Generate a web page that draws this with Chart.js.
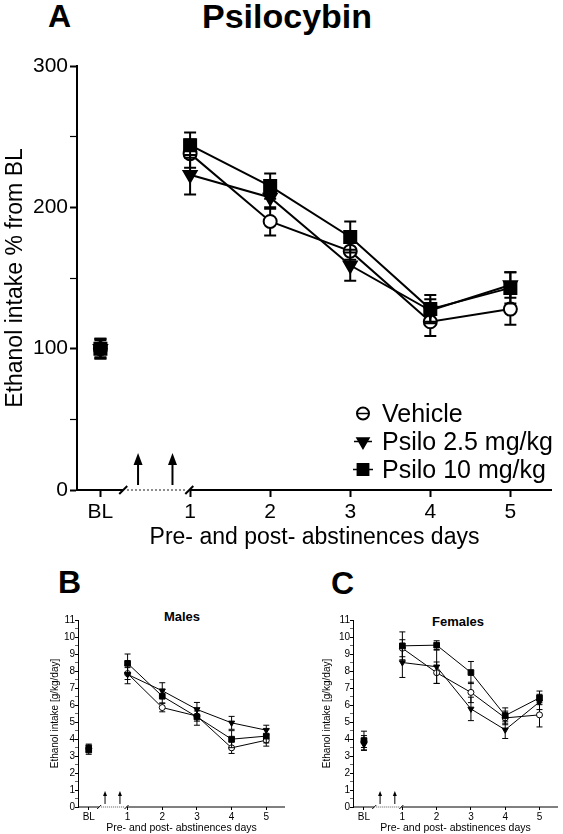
<!DOCTYPE html>
<html>
<head>
<meta charset="utf-8">
<script src="https://cdn.jsdelivr.net/npm/chart.js@4.4.1/dist/chart.umd.min.js"></script>
<style>
  body { margin: 0; background: #fff; width: 563px; height: 834px; position: relative; overflow: hidden;
         font-family: 'Liberation Sans', Arial, sans-serif; }
  .lbl { position: absolute; font-weight: bold; color: #000; line-height: 1; white-space: nowrap; }
  canvas { position: absolute; }
</style>
</head>
<body>
<div class="lbl" style="left:48px;top:0;font-size:32px">A</div>
<div class="lbl" style="left:137px;top:-1px;width:300px;text-align:center;font-size:34px">Psilocybin</div>
<div class="lbl" style="left:58px;top:566px;font-size:32px">B</div>
<div class="lbl" style="left:331px;top:567px;font-size:32px">C</div>
<div class="lbl" style="left:132px;top:610px;width:100px;text-align:center;font-size:13px">Males</div>
<div class="lbl" style="left:408px;top:615px;width:100px;text-align:center;font-size:13px">Females</div>

<canvas id="chartA" width="563" height="560" style="left:0;top:0"></canvas>
<canvas id="chartB" width="290" height="254" style="left:0;top:580px"></canvas>
<canvas id="chartC" width="283" height="254" style="left:280px;top:580px"></canvas>

<script>
// Trục X: BL rồi các ngày sau cai
const categories = ['BL', '1', '2', '3', '4', '5'];
const dayPositions = [-0.12, 1, 2, 3, 4, 5];
const seriesNames = ['Vehicle', 'Psilo 2.5 mg/kg', 'Psilo 10 mg/kg'];
const injectionDays = [0.35, 0.78]; // hai mũi tiêm trong thời gian cai

// A: % so với BL
const vehiclePct = [100, 238, 190, 169, 119, 128];
const vehiclePctSem = [7, 10, 10, 6, 10, 11];
const psilo25Pct = [100, 223, 207, 159, 127, 145];
const psilo25PctSem = [6, 14, 8, 11, 8, 9];
const psilo10Pct = [100, 244, 215, 179, 128, 143];
const psilo10PctSem = [7, 9, 9, 11, 10, 11];

// B: con đực, g/kg/ngày
const vehicleMales = [3.45, 7.85, 5.85, 5.35, 3.48, 3.93];
const vehicleMalesSem = [0.2, 0.35, 0.25, 0.3, 0.33, 0.35];
const psilo25Males = [3.5, 7.8, 6.84, 5.74, 4.95, 4.52];
const psilo25MalesSem = [0.2, 0.55, 0.47, 0.41, 0.38, 0.29];
const psilo10Males = [3.35, 8.45, 6.52, 5.3, 3.99, 4.17];
const psilo10MalesSem = [0.25, 0.55, 0.4, 0.49, 0.5, 0.4];

// C: con cái, g/kg/ngày
const vehicleFemales = [3.85, 9.34, 7.9, 6.74, 5.24, 5.42];
const vehicleFemalesSem = [0.35, 0.5, 0.63, 0.6, 0.4, 0.71];
const psilo25Females = [3.68, 8.5, 8.25, 5.77, 4.54, 6.18];
const psilo25FemalesSem = [0.35, 0.88, 0.98, 0.69, 0.51, 0.45];
const psilo10Females = [3.91, 9.48, 9.52, 7.91, 5.38, 6.42];
const psilo10FemalesSem = [0.55, 0.82, 0.26, 0.65, 0.45, 0.4];

const FONT = "'Liberation Sans', Arial, sans-serif";
const markerStyles = [
  { pointStyle: 'circle', fill: '#fff', rotation: 0 },
  { pointStyle: 'triangle', fill: '#000', rotation: 180 },
  { pointStyle: 'rect', fill: '#000', rotation: 0 }
];

function buildDatasets(groups, sizes, lw) {
  return groups.map((g, i) => ({
    label: seriesNames[i],
    data: g[0].map((v, j) => ({ x: dayPositions[j], y: v })),
    errors: g[1],
    borderColor: '#000',
    borderWidth: lw,
    tension: 0,
    pointStyle: markerStyles[i].pointStyle,
    pointRotation: markerStyles[i].rotation,
    pointRadius: sizes[i],
    pointBackgroundColor: markerStyles[i].fill,
    pointBorderColor: '#000',
    pointBorderWidth: lw,
    // BL không nối với ngày 1
    segment: { borderColor: c => c.p0DataIndex === 0 ? 'rgba(0,0,0,0)' : undefined },
    order: 2 - i
  }));
}

// error bar, trục X bị ngắt, mũi tên, chú thích
const decorPlugin = {
  id: 'decor',
  beforeDatasetDraw(chart, args, o) {
    const ctx = chart.ctx, ys = chart.scales.y;
    const ds = chart.data.datasets[args.index];
    ctx.save();
    ctx.strokeStyle = '#000';
    ctx.lineWidth = o.lw;
    args.meta.data.forEach((pt, j) => {
      const v = ds.data[j].y, e = ds.errors[j];
      const yt = ys.getPixelForValue(v + e), yb = ys.getPixelForValue(v - e);
      ctx.beginPath();
      ctx.moveTo(pt.x, yt); ctx.lineTo(pt.x, yb);
      ctx.moveTo(pt.x - o.cap, yt); ctx.lineTo(pt.x + o.cap, yt);
      ctx.moveTo(pt.x - o.cap, yb); ctx.lineTo(pt.x + o.cap, yb);
      ctx.stroke();
    });
    ctx.restore();
  },
  afterDraw(chart, args, o) {
    const ctx = chart.ctx, xs = chart.scales.x;
    const { left, right, bottom } = chart.chartArea;
    const y0 = bottom;
    const b1 = xs.getPixelForValue(o.breakFrom), b2 = xs.getPixelForValue(o.breakTo);
    ctx.save();
    ctx.strokeStyle = '#000';
    ctx.lineWidth = o.lw;
    ctx.beginPath();
    ctx.moveTo(left, y0); ctx.lineTo(b1, y0);
    ctx.moveTo(b2, y0); ctx.lineTo(right, y0);
    [b1, b2].forEach(b => { ctx.moveTo(b - o.slash, y0 + o.slash); ctx.lineTo(b + o.slash, y0 - o.slash); });
    ctx.stroke();
    // đoạn chấm chấm
    ctx.setLineDash(o.dash);
    ctx.strokeStyle = o.dotColor;
    ctx.lineWidth = o.dotWidth;
    ctx.beginPath();
    ctx.moveTo(b1 + o.slash, y0); ctx.lineTo(b2 - o.slash, y0);
    ctx.stroke();
    ctx.setLineDash([]);
    // mũi tên
    ctx.strokeStyle = '#000';
    ctx.fillStyle = '#000';
    ctx.lineWidth = o.lw;
    injectionDays.forEach(d => {
      const x = xs.getPixelForValue(d);
      const top = y0 - o.arrow.h;
      ctx.beginPath();
      ctx.moveTo(x, y0 - o.arrow.gap); ctx.lineTo(x, top + o.arrow.head);
      ctx.stroke();
      ctx.beginPath();
      ctx.moveTo(x, top);
      ctx.lineTo(x - o.arrow.half, top + o.arrow.head);
      ctx.lineTo(x + o.arrow.half, top + o.arrow.head);
      ctx.closePath();
      ctx.fill();
    });
    // chú thích
    if (o.legend) {
      const L = o.legend;
      ctx.font = L.font + 'px ' + FONT;
      ctx.textBaseline = 'alphabetic';
      ctx.textAlign = 'left';
      seriesNames.forEach((name, i) => {
        const cy = L.baselines[i] - L.mid;
        ctx.fillStyle = markerStyles[i].fill;
        ctx.strokeStyle = '#000';
        Chart.helpers.drawPoint(ctx, {
          pointStyle: markerStyles[i].pointStyle, rotation: markerStyles[i].rotation,
          radius: L.sizes[i], borderWidth: 1.5
        }, L.x, cy);
        ctx.lineWidth = 1.5;
        ctx.beginPath();
        const w = i === 0 ? L.sizes[i] : L.sizes[i] + 2;
        ctx.moveTo(L.x - w, cy); ctx.lineTo(L.x + w, cy);
        ctx.stroke();
        ctx.fillStyle = '#000';
        ctx.fillText(name, L.textX, L.baselines[i]);
      });
    }
    ctx.restore();
  }
};

function makeChart(id, datasets, c) {
  return new Chart(document.getElementById(id), {
    type: 'line',
    data: { datasets },
    options: {
      responsive: false,
      animation: false,
      layout: { padding: c.padding },
      plugins: { legend: { display: false }, tooltip: { enabled: false }, decor: c.decor },
      scales: {
        x: {
          type: 'linear', min: c.xMin, max: c.xMax,
          afterFit: s => { s.height = c.xHeight; },
          afterBuildTicks: s => { s.ticks = dayPositions.map(v => ({ value: v })); },
          ticks: { callback: (v, i) => categories[i], color: '#000', font: { family: FONT, size: c.tickFont },
                   padding: c.xTickPad, maxRotation: 0, autoSkip: false },
          grid: { drawOnChartArea: false, tickLength: c.tickLen, tickWidth: c.lw, tickColor: '#000' },
          border: { display: false },
          title: { display: true, text: 'Pre- and post- abstinences days', color: '#000',
                   font: { family: FONT, size: c.xTitleFont }, padding: { top: 0, bottom: c.xTitlePad } }
        },
        y: {
          min: 0, max: c.yMax,
          afterFit: s => { s.width = c.yWidth; },
          ticks: { stepSize: c.minorStep, autoSkip: false, color: '#000', padding: c.yTickPad,
                   font: { family: FONT, size: c.tickFont },
                   callback: v => Math.abs(v % c.majorStep) < 1e-6 ? String(v) : '' },
          grid: { drawOnChartArea: false, tickLength: c.tickLen, tickColor: '#000',
                  tickWidth: ctx => (ctx.tick && Math.abs(ctx.tick.value % c.majorStep) < 1e-6) ? c.lw : c.lw * 0.6 },
          border: { color: '#000', width: c.lw },
          title: { display: true, text: c.yTitle, color: '#000',
                   font: { family: FONT, size: c.yTitleFont }, padding: { top: c.yTitlePad, bottom: 0 } }
        }
      }
    },
    plugins: [decorPlugin]
  });
}

document.addEventListener('DOMContentLoaded', () => {
  makeChart('chartA', buildDatasets([
    [vehiclePct, vehiclePctSem], [psilo25Pct, psilo25PctSem], [psilo10Pct, psilo10PctSem]
  ], [6.5, 7.5, 8.5], 2), {
    padding: { top: 66, right: 11, left: 0, bottom: 0 },
    xMin: -0.4125, xMax: 5.52, xHeight: 70, yWidth: 77,
    yMax: 300, minorStep: 50, majorStep: 100,
    tickFont: 21, tickLen: 7, xTickPad: 3, yTickPad: 2, lw: 2,
    xTitleFont: 23, xTitlePad: 9, yTitle: 'Ethanol intake % from BL', yTitleFont: 23, yTitlePad: 2,
    decor: {
      lw: 2, cap: 6, breakFrom: 0.165, breakTo: 0.99, slash: 4,
      dash: [1.5, 2.5], dotColor: '#333', dotWidth: 1.5,
      arrow: { h: 37, gap: 5, head: 12, half: 4.5 },
      legend: { x: 363, textX: 382, baselines: [422, 450, 478], mid: 8.5, font: 25, sizes: [6, 7, 8] }
    }
  });

  const small = {
    xMin: -0.43, xMax: 5.54, xHeight: 27,
    yMax: 11, minorStep: 0.5, majorStep: 1,
    tickFont: 10, tickLen: 3, xTickPad: 1, yTickPad: 0, lw: 1,
    xTitleFont: 10.5, xTitlePad: 0, yTitle: 'Ethanol intake [g/kg/day]', yTitleFont: 10
  };
  const smallDecor = {
    lw: 1, cap: 3, breakFrom: 0.18, breakTo: 0.97, slash: 2,
    dash: [1, 1], dotColor: '#aaa', dotWidth: 2,
    arrow: { h: 16, gap: 3, head: 5, half: 2 },
    legend: null
  };

  makeChart('chartB', buildDatasets([
    [vehicleMales, vehicleMalesSem], [psilo25Males, psilo25MalesSem], [psilo10Males, psilo10MalesSem]
  ], [3, 3.5, 4], 1), Object.assign({}, small, {
    padding: { top: 40, right: 3, left: 0, bottom: 0 }, yWidth: 78, yTitlePad: 49, decor: smallDecor
  }));

  makeChart('chartC', buildDatasets([
    [vehicleFemales, vehicleFemalesSem], [psilo25Females, psilo25FemalesSem], [psilo10Females, psilo10FemalesSem]
  ], [3, 3.5, 4], 1), Object.assign({}, small, {
    xMin: -0.44, padding: { top: 40, right: 0, left: 0, bottom: 0 }, yWidth: 73, yTitlePad: 41, decor: smallDecor
  }));
});
</script>
</body>
</html>
